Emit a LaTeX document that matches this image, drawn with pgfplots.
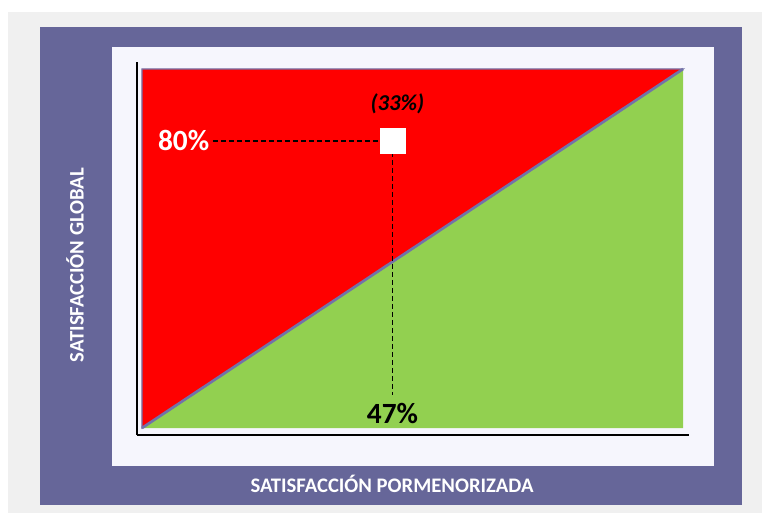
\documentclass[border=0pt]{standalone}
\usepackage{pgfplots}
\pgfplotsset{compat=1.18}
\usepackage{fontspec}
\setmainfont{Carlito}
\definecolor{frame}{HTML}{666699}
\definecolor{panel}{HTML}{F6F6FD}
\definecolor{bggray}{HTML}{F0F0F0}
\definecolor{gr}{HTML}{92D050}
\definecolor{diag}{HTML}{7272AA}
\pgfdeclareplotmark{rsq}{%
  \pgfsetcornersarced{\pgfpoint{3pt}{3pt}}%
  \pgfpathmoveto{\pgfqpoint{-\pgfplotmarksize}{0pt}}%
  \pgfpathlineto{\pgfqpoint{-\pgfplotmarksize}{\pgfplotmarksize}}%
  \pgfpathlineto{\pgfqpoint{\pgfplotmarksize}{\pgfplotmarksize}}%
  \pgfpathlineto{\pgfqpoint{\pgfplotmarksize}{-\pgfplotmarksize}}%
  \pgfpathlineto{\pgfqpoint{-\pgfplotmarksize}{-\pgfplotmarksize}}%
  \pgfpathclose
  \pgfusepathqfillstroke}
\begin{document}
\begin{tikzpicture}
\begin{scope}[x=0.75pt,y=-0.75pt]
  \fill[white] (0,0) rectangle (762,513);
  \fill[bggray] (8,12) rectangle (762,513);
  \fill[frame] (40,27) rectangle (742,505);
  \fill[panel] (112,47) rectangle (714,466);
  \node[text=white,font=\bfseries\fontsize{15.5}{16}\selectfont] at (392,484) {SATISFACCIÓN PORMENORIZADA};
  \node[text=white,font=\bfseries\fontsize{15.5}{16}\selectfont,rotate=90] at (75,265) {SATISFACCIÓN GLOBAL};
\end{scope}
\begin{axis}[
  at={(102.75pt,-326.25pt)}, anchor=south west,
  width=414pt, height=279.75pt, scale only axis,
  xmin=-0.92, xmax=101.1, ymin=-1.95, ymax=101.95,
  axis x line*=bottom, axis y line*=left,
  axis line style={black, line width=1pt, -},
  xtick=\empty, ytick=\empty,
  clip=false,
]
\addplot[fill=red, draw=diag, line width=0.9pt] coordinates {(0,0) (0,100) (100,100)} -- cycle;
\addplot[fill=gr, draw=none] coordinates {(0,0) (100,100) (100,0)} -- cycle;
\addplot[diag, line width=2pt] coordinates {(0,0) (100,100)};
\addplot[black, line width=1.3pt, dash pattern=on 3.5pt off 2.5pt] coordinates {(13.1,80) (44,80)};
\addplot[black, line width=1.3pt, dash pattern=on 3.5pt off 2.5pt] coordinates {(46.3,76.9) (46.3,9.2)};
\addplot[only marks, mark=rsq, mark size=9.2pt, mark options={fill=white, draw=white}] coordinates {(46.3,80)};
\node[text=white, font=\bfseries\fontsize{22}{24}\selectfont, anchor=west] at (axis cs:2.1,80) {80\%};
\node[text=black, font=\bfseries\itshape\fontsize{17}{18}\selectfont] at (axis cs:47.2,90.2) {(33\%)};
\node[text=black, font=\bfseries\fontsize{22}{24}\selectfont] at (axis cs:46.3,3.9) {47\%};
\end{axis}
\end{tikzpicture}
\end{document}
